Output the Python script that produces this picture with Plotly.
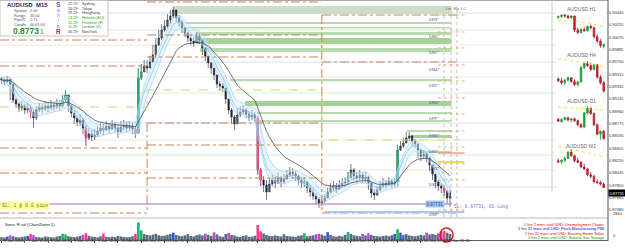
import plotly.graph_objects as go
import pandas as pd
import numpy as np

# ---------------- data ----------------
x_tick_labels = ["6 Jan 2014", "7 Jan 11:45", "8 Jan 03:45", "8 Jan 19:45", "9 Jan 11:45",
                 "10 Jan 03:45", "10 Jan 19:45", "13 Jan 11:45", "14 Jan 03:45", "14 Jan 19:45",
                 "15 Jan 11:45", "16 Jan 03:45", "16 Jan 19:45", "17 Jan 11:45", "20 Jan 03:45",
                 "20 Jan 19:45", "21 Jan 11:45", "22 Jan 03:45", "22 Jan 19:45", "23 Jan 11:45"]
bars_per_label = 8

price_ticks = [0.90440, 0.90255, 0.90070, 0.89885, 0.89700, 0.89515, 0.89330, 0.89145, 0.88960,
               0.88775, 0.88590, 0.88405, 0.88220, 0.88035, 0.87850, 0.87665, 0.87480]

first_open = 0.8945
close = [0.8943, 0.8940, 0.89445, 0.8937, 0.8913, 0.8907, 0.8901, 0.8904, 0.8898, 0.8901,
         0.8895, 0.8886, 0.8898, 0.89025, 0.88995, 0.8904, 0.8901, 0.89055, 0.89025, 0.8907,
         0.8904, 0.8913, 0.89205, 0.8904, 0.88935, 0.8886, 0.8880, 0.8883, 0.8871, 0.8856,
         0.8862, 0.88575, 0.88605, 0.88665, 0.8871, 0.8868, 0.8874, 0.88695, 0.88755, 0.8871,
         0.8865, 0.88725, 0.88755, 0.8871, 0.8874, 0.88695, 0.88635, 0.8946, 0.8955, 0.8964,
         0.8961, 0.8970, 0.89805, 0.89955, 0.9006, 0.9018, 0.9024, 0.9033, 0.9039, 0.9048,
         0.9036, 0.9030, 0.9021, 0.90135, 0.9006, 0.90015, 0.89985, 0.9009, 0.9003, 0.8991,
         0.8979, 0.89685, 0.8961, 0.89505, 0.8937, 0.8934, 0.8931, 0.89145, 0.8898, 0.88875,
         0.8877, 0.88905, 0.8895, 0.8898, 0.8892, 0.88875, 0.88905, 0.8886, 0.8808, 0.8793,
         0.87855, 0.8775, 0.8787, 0.8793, 0.87885, 0.8796, 0.8790, 0.87945, 0.88005, 0.8805,
         0.8802, 0.8799, 0.8793, 0.87885, 0.8790, 0.8781, 0.8775, 0.8769, 0.87645, 0.87585,
         0.87615, 0.8766, 0.8775, 0.8781, 0.8784, 0.87795, 0.87855, 0.87885, 0.8790, 0.8796,
         0.8808, 0.8799, 0.8796, 0.88005, 0.87945, 0.87975, 0.87885, 0.87735, 0.87705, 0.8778,
         0.8784, 0.87885, 0.87855, 0.87915, 0.8787, 0.8790, 0.8838, 0.8844, 0.88485, 0.8856,
         0.8859, 0.88515, 0.8847, 0.8838, 0.8829, 0.8832, 0.8826, 0.88155, 0.8802, 0.8790,
         0.8784, 0.8781, 0.87765, 0.8766, 0.87735]
high = [0.89475, 0.8946, 0.8949, 0.89445, 0.8931, 0.8916, 0.8910, 0.89115, 0.8907, 0.89085,
        0.89055, 0.8898, 0.8904, 0.89085, 0.8907, 0.89115, 0.89085, 0.8913, 0.8910, 0.89145,
        0.8913, 0.89205, 0.8928, 0.8919, 0.89055, 0.8898, 0.88905, 0.8892, 0.8886, 0.88755,
        0.8871, 0.8868, 0.88695, 0.8874, 0.88785, 0.8877, 0.88815, 0.88785, 0.8883, 0.8880,
        0.88755, 0.88815, 0.8883, 0.8880, 0.88815, 0.88785, 0.8874, 0.8961, 0.8967, 0.8973,
        0.8973, 0.8979, 0.89955, 0.9006, 0.9018, 0.9027, 0.9033, 0.9042, 0.9048, 0.90525,
        0.9048, 0.90405, 0.9033, 0.90225, 0.9015, 0.90105, 0.90075, 0.9015, 0.90135, 0.9003,
        0.89925, 0.89775, 0.8970, 0.8961, 0.89505, 0.89415, 0.89385, 0.8928, 0.8910, 0.8901,
        0.88905, 0.8901, 0.8904, 0.89055, 0.8901, 0.88965, 0.8898, 0.8895, 0.8889, 0.8811,
        0.8799, 0.8793, 0.8796, 0.88005, 0.87975, 0.8805, 0.8799, 0.8802, 0.8808, 0.88125,
        0.8811, 0.88065, 0.88005, 0.87975, 0.87975, 0.87915, 0.87855, 0.87795, 0.87735, 0.87675,
        0.8769, 0.8772, 0.8781, 0.87885, 0.87915, 0.87885, 0.8793, 0.8796, 0.87975, 0.8805,
        0.8817, 0.8811, 0.8805, 0.8808, 0.88035, 0.8805, 0.8799, 0.8787, 0.87795, 0.8784,
        0.87915, 0.8796, 0.8793, 0.87975, 0.87945, 0.8796, 0.88455, 0.88515, 0.8856, 0.8865,
        0.8865, 0.88605, 0.88545, 0.88485, 0.8838, 0.8838, 0.88335, 0.88275, 0.88155, 0.8802,
        0.8793, 0.87885, 0.87855, 0.8778, 0.87795]
low = [0.8937, 0.89355, 0.89385, 0.8913, 0.89085, 0.8901, 0.8895, 0.88965, 0.8892, 0.88935,
       0.8886, 0.8871, 0.8883, 0.8895, 0.88935, 0.88965, 0.8895, 0.8898, 0.88965, 0.88995,
       0.8898, 0.8901, 0.8910, 0.8895, 0.88875, 0.8877, 0.8874, 0.8874, 0.8862, 0.8844,
       0.8853, 0.88515, 0.8853, 0.88575, 0.8862, 0.88605, 0.88665, 0.88635, 0.8868, 0.8865,
       0.8856, 0.88665, 0.8868, 0.8865, 0.88665, 0.8862, 0.8856, 0.8862, 0.8943, 0.8955,
       0.89535, 0.8961, 0.8970, 0.8976, 0.8994, 0.9003, 0.9015, 0.9021, 0.9027, 0.9036,
       0.9030, 0.90225, 0.90135, 0.90075, 0.9000, 0.89955, 0.89925, 0.9000, 0.8997, 0.89805,
       0.89715, 0.8961, 0.8952, 0.8943, 0.8931, 0.89265, 0.8925, 0.8907, 0.8892, 0.8877,
       0.8868, 0.8883, 0.88875, 0.88905, 0.8886, 0.88815, 0.8883, 0.8880, 0.88005, 0.8784,
       0.8775, 0.8763, 0.8778, 0.8784, 0.8781, 0.8787, 0.87825, 0.8787, 0.8793, 0.87975,
       0.8796, 0.87915, 0.87855, 0.8781, 0.87825, 0.87735, 0.87675, 0.8763, 0.8757, 0.8751,
       0.8754, 0.87585, 0.8766, 0.87735, 0.87765, 0.87735, 0.8778, 0.8781, 0.87825, 0.8787,
       0.8796, 0.87915, 0.87885, 0.8793, 0.87885, 0.8790, 0.8778, 0.8766, 0.8763, 0.8769,
       0.87765, 0.8781, 0.87795, 0.8784, 0.8781, 0.87825, 0.8784, 0.88365, 0.8841, 0.88485,
       0.88515, 0.8844, 0.8841, 0.8826, 0.88215, 0.88245, 0.8820, 0.88065, 0.8793, 0.8781,
       0.87765, 0.87735, 0.8769, 0.8757, 0.87525]
volume = [420, 380, 510, 690, 560, 430, 390, 470, 520, 610,
          880, 720, 450, 400, 380, 520, 470, 410, 360, 500,
          620, 940, 820, 560, 480, 430, 510, 620, 780, 1020,
          640, 520, 470, 390, 560, 980, 480, 420, 510, 460,
          620, 540, 450, 400, 430, 560, 900, 2650, 1450, 880,
          760, 690, 820, 940, 700, 620, 650, 780, 900, 1100,
          760, 640, 580, 700, 880, 610, 540, 720, 830, 690,
          960, 780, 620, 1150, 840, 560, 480, 900, 1050, 760,
          680, 520, 460, 590, 700, 480, 520, 640, 2250, 1300,
          980, 760, 640, 580, 700, 620, 540, 880, 600, 560,
          520, 480, 640, 700, 1020, 560, 620, 700, 860, 940,
          820, 640, 1180, 760, 560, 500, 620, 540, 780, 1200,
          940, 700, 620, 560, 900, 680, 1000, 760, 620, 560,
          520, 600, 680, 580, 720, 900, 1600, 1100, 760, 880,
          700, 620, 560, 640, 760, 680, 1100, 820, 900, 760,
          1000, 1200, 1350, 1100, 900]
last_price = 0.87731
vol_max_label = "2841"

# weekly pivot structure (week start bar indices and levels)
week_bounds = [-0.5, 50.0, 110.0, 157.4]
week_levels = [[0.9003, 0.8964, 0.8841, 0.88035, 0.87435],
               [0.9060, 0.90105, 0.89775, 0.88785, 0.88455, 0.8796],
               [0.90405, 0.8970, 0.87435]]
week_links = [(0.88785, 0.87435), (0.90405, 0.87435)]
weekly_pivot = [0.89025, 0.8928, 0.8853]

faint_levels = [0.90435, 0.9018, 0.89955, 0.8970, 0.89475, 0.89235, 0.88785, 0.8853, 0.88305, 0.8808, 0.87825]
faint_kinds = ["v", "g", "b", "v", "b", "g", "v", "b", "g", "b", "v"]

zone_top = [0.9054, 0.9030, 0.90225, 0.9015, 0.9006, 0.8991, 0.89445, 0.89115, 0.8895, 0.8883, 0.8868, 0.88605, 0.88365]
zone_bottom = [0.9042, 0.9027, 0.90203, 0.90105, 0.8997, 0.8985, 0.8941, 0.8904, 0.8892, 0.8880, 0.8865, 0.8856, 0.88335]
zone_start = [58.9, 63.0, 63.0, 66.5, 67.1, 68.2, 78.5, 83.6, 87.7, 88.1, 139.2, 140.3, 143.7]
zone_kind = ["old", "thin", "thin", "thin", "thick", "thin", "thin", "thick", "thin", "thin", "thin", "thick", "thin"]
zone_end = 154.5

label_levels = [0.90405, 0.9015, 0.8991, 0.89655, 0.89415, 0.8916, 0.8892, 0.88665, 0.88425, 0.8817, 0.8793, 0.8748]
label_texts = ["DR3*", "DM5*", "DR2*", "DM4*", "DR1*", "DM3*", "DPP*", "DM2*", "DS1*", "DM1*", "DS2*", "DS3*"]
label_x = 148.4
mark_x = [149.8, 159.0]
solid_marks = [0.88335, 0.8820]
trade_line = 0.8757
band_line = 0.8745
band_start = 111.0
vlines_x = [151.9, 154.4, 156.4]

# mini charts
h1_o = [.8838, .8840, .8843, .8841, .8837, .8841, .8810, .8804, .8811, .8808, .8818, .8815, .8795, .8785, .8773]
h1_h = [.8842, .8845, .8846, .8844, .8843, .8842, .8815, .8814, .8816, .8820, .8822, .8818, .8800, .8790, .8780]
h1_l = [.8834, .8837, .8838, .8835, .8835, .8805, .8800, .8802, .8806, .8806, .8812, .8790, .8780, .8770, .8768]
h1_c = [.8840, .8843, .8841, .8837, .8841, .8810, .8804, .8811, .8808, .8818, .8815, .8795, .8785, .8775, .8777]
h1_ma = [.8830, .8830, .8831, .8831, .8831, .8830, .8829, .8828, .8827, .8826, .8825, .8823, .8821, .8819, .8818]

h4_o = [.8805, .8800, .8795, .8802, .8808, .8798, .8790, .8797, .8835, .8846, .8840, .8830, .8842, .8810, .8795]
h4_h = [.8810, .8808, .8805, .8812, .8810, .8804, .8800, .8840, .8850, .8852, .8848, .8845, .8844, .8815, .8800]
h4_l = [.8796, .8790, .8788, .8798, .8795, .8786, .8785, .8795, .8830, .8836, .8825, .8828, .8805, .8790, .8768]
h4_c = [.8800, .8795, .8802, .8808, .8798, .8790, .8797, .8835, .8846, .8840, .8830, .8842, .8810, .8795, .8773]
h4_ma = [.8858, .8857, .8855, .8854, .8853, .8851, .8850, .8848, .8847, .8846, .8844, .8842, .8840, .8838, .8836]

d1_o = [.8935, .8920, .8935, .8950, .8930, .8940, .8925, .8890, .8870, .8990, .9030, .8985, .8890, .8810, .8835]
d1_h = [.8950, .8945, .8960, .8958, .8945, .8952, .8935, .8905, .9000, .9050, .9040, .8995, .8900, .8840, .8845]
d1_l = [.8915, .8905, .8925, .8920, .8910, .8915, .8880, .8860, .8860, .8975, .8975, .8880, .8800, .8760, .8760]
d1_c = [.8920, .8935, .8950, .8930, .8940, .8925, .8890, .8870, .8990, .9030, .8985, .8890, .8810, .8835, .8773]
d1_ma = [.9041, .9039, .9037, .9036, .9034, .9032, .9030, .9029, .9027, .9025, .9023, .9021, .9019, .9018, .9016]

w1_o = [.9460, .9430, .9470, .9520, .9680, .9590, .9460, .9420, .9300, .9250, .9100, .9060, .8920, .8900, .8860]
w1_h = [.9520, .9500, .9560, .9700, .9760, .9620, .9540, .9450, .9380, .9280, .9180, .9110, .8990, .8950, .8910]
w1_l = [.9400, .9380, .9420, .9500, .9560, .9420, .9400, .9280, .9220, .9060, .9000, .8880, .8860, .8820, .8760]
w1_c = [.9430, .9470, .9520, .9680, .9590, .9460, .9420, .9300, .9250, .9100, .9060, .8920, .8900, .8860, .8773]
w1_ma = [.9830, .9812, .9794, .9776, .9758, .9739, .9720, .9700, .9681, .9662, .9643, .9623, .9603, .9582, .9560]

mini_titles = ["AUDUSD H1", "AUDUSD H4", "AUDUSD D1", "AUDUSD W1"]
mini_ranges = [[0.8765, 0.8850], [0.8760, 0.8860], [0.8743, 0.9067], [0.8709, 0.9837]]

session_times = ["22:29", "20:29", "19:29", "13:29", "12:29", "11:29", "06:29"]
session_cities = ["Sydney", "Tokyo", "HongKong", "Helsinki (EU)", "Frankfurt (F)", "London (G)", "NewYork"]
session_open = [False, False, False, True, True, True, False]
info_names = ["Spread", "Range", "Pips/R", "Candle"]
info_values = ["2.00", "33.00", "2.71", "00:01:00"]
news_lines = ["1 hrs 2 mins until USD: Unemployment Claims",
              "1 hrs 32 mins until USD: Flash Manufacturing PMI",
              "2 hrs 32 mins until USD: Existing Home Sales",
              "3 hrs 2 mins until USD: Natural Gas Storage"]
news_colors = ["#e00000", "#0000dd", "#e00000", "#009900"]

# ---------------- layout helpers ----------------
W, H = 625, 248
PW = 608  # plot area width (right margin holds the price scale)
FONT = "Arial"


def pxx(x):
    return x / PW


def pxy(y):
    return 1 - y / H


n = len(close)
idx = np.arange(n)
opens = [first_open] + close[:-1]
hi = np.maximum.reduce([np.array(high), np.array(opens), np.array(close)])
lo = np.minimum.reduce([np.array(low), np.array(opens), np.array(close)])

ema_c = pd.Series(close).ewm(span=6, adjust=False).mean()
ema_h = pd.Series(high).ewm(span=6, adjust=False).mean()
ema_l = pd.Series(low).ewm(span=6, adjust=False).mean()
slow = pd.Series(close).ewm(span=17, adjust=False).mean()

vol = pd.Series(volume, dtype=float)
base = vol.shift(1).rolling(10, min_periods=1).mean().fillna(vol)
ratio = (vol / base).values
bull = np.array(close) >= np.array(opens)
vcolors = []
for r, b in zip(ratio, bull):
    if r > 1.6:
        vcolors.append("#1fb36b" if b else "#ff3d8b")
    elif r > 1.25:
        vcolors.append("#3b55d6" if b else "#b94fc9")
    else:
        vcolors.append("#5d6d80")

fig = go.Figure()

# EMA band
fig.add_trace(go.Scatter(x=idx, y=ema_h, mode="lines", line=dict(color="#9ed0f4", width=0.7),
                         hoverinfo="skip"))
fig.add_trace(go.Scatter(x=idx, y=ema_l, mode="lines", line=dict(color="#9ed0f4", width=0.7),
                         fill="tonexty", fillcolor="rgba(205,232,252,0.45)", hoverinfo="skip"))
fig.add_trace(go.Scatter(x=idx, y=ema_c, mode="lines", line=dict(color="#6cb8ee", width=0.6),
                         hoverinfo="skip"))
fig.add_trace(go.Scatter(x=idx, y=slow, mode="lines", line=dict(color="#3a3a3a", width=0.7),
                         hoverinfo="skip"))

# weekly pivot levels (brown dash-dot)
bx, by = [], []
for w in range(3):
    for lv in week_levels[w]:
        bx += [week_bounds[w], week_bounds[w + 1], None]
        by += [lv, lv, None]
for k, (a, b) in enumerate(week_links):
    bx += [week_bounds[k + 1], week_bounds[k + 1], None]
    by += [a, b, None]
fig.add_trace(go.Scatter(x=bx, y=by, mode="lines", line=dict(color="#c9835a", width=1, dash="dashdot"),
                         hoverinfo="skip"))

# weekly pivot (yellow-green dashed step)
px_, py_ = [], []
for w in range(3):
    px_ += [week_bounds[w], week_bounds[w + 1]]
    py_ += [weekly_pivot[w], weekly_pivot[w]]
fig.add_trace(go.Scatter(x=px_, y=py_, mode="lines", line=dict(color="#c6d870", width=1, dash="dash"),
                         hoverinfo="skip"))

# short level marks near labels
mark_cols = ["#c8c070", "#f0a090"]
for k, lv in enumerate(label_levels):
    fig.add_trace(go.Scatter(x=mark_x, y=[lv, lv], mode="lines",
                             line=dict(color=mark_cols[k % 2], width=1, dash="dot"), hoverinfo="skip"))
fig.add_trace(go.Scatter(x=mark_x, y=[solid_marks[0]] * 2, mode="lines",
                         line=dict(color="#f08878", width=1.2), hoverinfo="skip"))
fig.add_trace(go.Scatter(x=mark_x, y=[solid_marks[1]] * 2, mode="lines",
                         line=dict(color="#d8d81c", width=1.5), hoverinfo="skip"))

# trade line & band
fig.add_trace(go.Scatter(x=[-0.5, zone_end], y=[trade_line] * 2, mode="lines",
                         line=dict(color="#9a6fd0", width=1), hoverinfo="skip"))
fig.add_trace(go.Scatter(x=[band_start, mark_x[1]], y=[band_line] * 2, mode="lines",
                         line=dict(color="#a8c8ec", width=2), hoverinfo="skip"))

# main candles
fig.add_trace(go.Candlestick(x=idx, open=opens, high=hi, low=lo, close=close,
                             increasing=dict(line=dict(color="#1c2432", width=0.6), fillcolor="#5a6a7e"),
                             decreasing=dict(line=dict(color="#1c2432", width=0.6), fillcolor="#1c2432"),
                             whiskerwidth=0, hoverinfo="skip"))
# climax candles coloured
climax = [i for i in range(n) if ratio[i] > 1.6]
cb = [i for i in climax if bull[i]]
cs = [i for i in climax if not bull[i]]
for sel, col in ((cb, "#22b070"), (cs, "#ff4a90")):
    if sel:
        fig.add_trace(go.Candlestick(x=[idx[i] for i in sel], open=[opens[i] for i in sel],
                                     high=[hi[i] for i in sel], low=[lo[i] for i in sel],
                                     close=[close[i] for i in sel],
                                     increasing=dict(line=dict(color=col, width=0.6), fillcolor=col),
                                     decreasing=dict(line=dict(color=col, width=0.6), fillcolor=col),
                                     whiskerwidth=0, hoverinfo="skip"))

# volume
fig.add_trace(go.Bar(x=idx, y=volume, xaxis="x2", yaxis="y2", marker=dict(color=vcolors, line=dict(width=0)),
                     width=0.9, hoverinfo="skip"))

# mini charts
minis = [(h1_o, h1_h, h1_l, h1_c, h1_ma), (h4_o, h4_h, h4_l, h4_c, h4_ma),
         (d1_o, d1_h, d1_l, d1_c, d1_ma), (w1_o, w1_h, w1_l, w1_c, w1_ma)]
for k, (o, hh, ll, c, ma) in enumerate(minis):
    ax = str(k + 3)
    xs = list(range(len(c)))
    fig.add_trace(go.Scatter(x=xs, y=ma, mode="lines", xaxis="x" + ax, yaxis="y" + ax,
                             line=dict(color="#f0e040", width=1, dash="dot"), hoverinfo="skip"))
    fig.add_trace(go.Candlestick(x=xs, open=o, high=hh, low=ll, close=c, xaxis="x" + ax, yaxis="y" + ax,
                                 increasing=dict(line=dict(color="#1f9a3a", width=0.8), fillcolor="#22a840"),
                                 decreasing=dict(line=dict(color="#b01c2c", width=0.8), fillcolor="#d02838"),
                                 whiskerwidth=0, hoverinfo="skip"))

shapes = []
# faint full-width lines
fcol = {"v": "#dcdcf4", "g": "#d6eed0", "b": "#efe8d8"}
for lv, kd in zip(faint_levels, faint_kinds):
    shapes.append(dict(type="line", xref="paper", x0=0, x1=1, yref="y", y0=lv, y1=lv,
                       line=dict(color=fcol[kd], width=1), layer="below"))
# zones
zcol = {"old": "#cddcc8", "thin": "#b9dcae", "thick": "#a6d298"}
for t, b_, s, kd in zip(zone_top, zone_bottom, zone_start, zone_kind):
    shapes.append(dict(type="rect", xref="x", x0=s, x1=zone_end, yref="y", y0=b_, y1=t,
                       fillcolor=zcol[kd], line=dict(width=0), layer="below"))
# Lin / My / LC vertical lines
for vx in vlines_x:
    shapes.append(dict(type="line", xref="x", x0=vx, x1=vx, yref="paper", y0=pxy(217), y1=pxy(6),
                       line=dict(color="#c0c0c0", width=1, dash="dot"), layer="below"))
# frame lines
shapes.append(dict(type="line", xref="paper", x0=0, x1=1, yref="paper", y0=pxy(0.5), y1=pxy(0.5),
                   line=dict(color="#a8a8a8", width=1)))
shapes.append(dict(type="line", xref="paper", x0=0, x1=1, yref="paper", y0=pxy(218), y1=pxy(218),
                   line=dict(color="#b8b8b8", width=1)))
shapes.append(dict(type="line", xref="paper", x0=1, x1=1, yref="paper", y0=pxy(241), y1=pxy(0),
                   line=dict(color="#505050", width=1)))
shapes.append(dict(type="line", xref="paper", x0=pxx(552), x1=pxx(552), yref="paper", y0=pxy(191), y1=pxy(0),
                   line=dict(color="#c8c8c8", width=1)))
# info panel
shapes.append(dict(type="rect", xref="paper", x0=0, x1=pxx(108), yref="paper", y0=pxy(36), y1=pxy(0.5),
                   fillcolor="white", line=dict(color="#c4c4c4", width=1), layer="above"))
# red circle
shapes.append(dict(type="circle", xref="paper", x0=pxx(440), x1=pxx(453), yref="paper", y0=pxy(242), y1=pxy(228),
                   line=dict(color="#e01818", width=1.5)))

ann = []


def A(text, x, y, size=4, color="#303030", anchor="left", **kw):
    d = dict(text=text, x=x, y=y, xref="paper", yref="paper", showarrow=False, xanchor=anchor,
             yanchor="middle", font=dict(size=size, color=color, family=FONT))
    d.update(kw)
    ann.append(d)


# info panel texts
A("<b>AUDUSD  M15</b>", pxx(5), pxy(4.5), size=6, color="#28285a")
for k, (nm, vv) in enumerate(zip(info_names, info_values)):
    A(nm, pxx(12), pxy(11 + 4.6 * k), size=3.8, color="#505050")
    A(vv, pxx(28), pxy(11 + 4.6 * k), size=3.8, color="#505050")
A("<b>0.8773</b>", pxx(11), pxy(30.5), size=8.5, color="#2e8b3a")
A("1", pxx(37.5), pxy(31), size=6.5, color="#2e8b3a")
letters = [("S", "#4a5fd0", 6.5), ("o", "#7a86d8", 4.5), ("n", "#a0a4e0", 4.5), ("i", "#e8a0c0", 4.5),
           ("c", "#e0507a", 5), ("R", "#d01c4a", 6.5)]
for k, (ch, col, sz) in enumerate(letters):
    A("<b>" + ch + "</b>", pxx(58), pxy(5 + 5.2 * k), size=sz, color=col, anchor="center")
for k, (tm, ct, op) in enumerate(zip(session_times, session_cities, session_open)):
    col = "#1a9a1a" if op else "#404040"
    A(tm, pxx(66), pxy(4 + 4.7 * k), size=3.8, color=col)
    A(ct, pxx(80), pxy(4 + 4.7 * k), size=3.8, color=col)

# level labels
for lv, tx in zip(label_levels, label_texts):
    ann.append(dict(text=tx, x=label_x, y=lv, xref="x", yref="y", showarrow=False, xanchor="center",
                    yanchor="top", font=dict(size=4, color="#4a4aa0", family=FONT)))
ann.append(dict(text="Lin  My  LC", x=vlines_x[0] + 0.2, y=pxy(4), xref="x", yref="paper", showarrow=False,
                xanchor="left", font=dict(size=4, color="#606060", family=FONT)))
# trade labels
ann.append(dict(text="0.87731", x=label_x + 0.6, y=trade_line, xref="x", yref="y", showarrow=False,
                xanchor="center", bgcolor="#a6c6ee", borderpad=0.5,
                font=dict(size=4.5, color="#2040a0", family=FONT)))
ann.append(dict(text="SL: 0.87731, 01 Long", x=vlines_x[1] + 0.3, y=trade_line, xref="x", yref="y",
                yshift=-2, showarrow=False, xanchor="left",
                font=dict(size=4.5, color="#9a60c8", family="Liberation Mono")))
A("SL: 1 @ 0.0 pips", 0.0, pxy(205), size=4.8, color="#5f8a10", bgcolor="#ffff9c",
  font=dict(size=4.8, color="#5f8a10", family="Liberation Mono"))
# volume label
A("Sonic R vol (ChartZoom 1)", pxx(3), pxy(224), size=4.2, color="#202020")
# right price scale extras
ann.append(dict(text="0.87731", x=1.0, y=last_price, xref="paper", yref="y", showarrow=False, xanchor="left",
                bgcolor="#000000", borderpad=0.5, font=dict(size=4, color="white", family=FONT)))
A(vol_max_label, pxx(611), pxy(213), size=4, color="#303030")
A("0", pxx(611), pxy(235.5), size=4, color="#303030")
# news lines
for k, (tx, col) in enumerate(zip(news_lines, news_colors)):
    A(tx, pxx(606), pxy(224 + 4.6 * k), size=3.9, color=col, anchor="right")
# mini titles
for k, tt in enumerate(mini_titles):
    A(tt, pxx(581), pxy([9, 55, 101, 146][k]), size=5, color="#6a6a6a", anchor="center")
# time labels
for k, lb in enumerate(x_tick_labels):
    ann.append(dict(text=lb, x=k * bars_per_label + 0.3, y=pxy(244.5), xref="x2", yref="paper",
                    showarrow=False, xanchor="left", font=dict(size=4, color="#202020", family=FONT)))

xr = [-0.5, 208.26]
noax = dict(showgrid=False, zeroline=False, showticklabels=False, showline=False, ticks="",
            automargin=False, rangeslider=dict(visible=False))
noay = dict(showgrid=False, zeroline=False, showticklabels=False, showline=False, ticks="", automargin=False)

layout = dict(
    width=W, height=H, margin=dict(l=0, r=17, t=0, b=0), showlegend=False,
    paper_bgcolor="white", plot_bgcolor="white", font=dict(family=FONT),
    xaxis=dict(domain=[0, 1], range=xr, anchor="y", **noax),
    yaxis=dict(domain=[pxy(217), 1], range=[0.87375, 0.9063], anchor="x", side="right",
               tickvals=price_ticks, ticktext=["%.5f" % v for v in price_ticks],
               tickfont=dict(size=4, color="#303030", family=FONT),
               showgrid=False, zeroline=False, showline=False, ticks="", automargin=False),
    xaxis2=dict(domain=[0, 1], range=xr, anchor="y2", showgrid=False, zeroline=False, showticklabels=False,
                showline=True, linecolor="#606060", linewidth=1, ticks="outside", ticklen=2, tickcolor="#606060",
                tickvals=[k * bars_per_label for k in range(len(x_tick_labels))], automargin=False,
                rangeslider=dict(visible=False)),
    yaxis2=dict(domain=[pxy(240), pxy(220)], range=[0, 3000], anchor="x2", **noay),
    shapes=shapes, annotations=ann,
)
mini_dom_y = [(12, 50), (58, 96), (104, 142), (146, 190)]
for k in range(4):
    ax = str(k + 3)
    layout["xaxis" + ax] = dict(domain=[pxx(556), pxx(606)], range=[-0.7, 14.7], anchor="y" + ax, **noax)
    layout["yaxis" + ax] = dict(domain=[pxy(mini_dom_y[k][1]), pxy(mini_dom_y[k][0])], range=mini_ranges[k],
                                anchor="x" + ax, **noay)

fig.update_layout(**layout)
fig.write_html("out.html")
